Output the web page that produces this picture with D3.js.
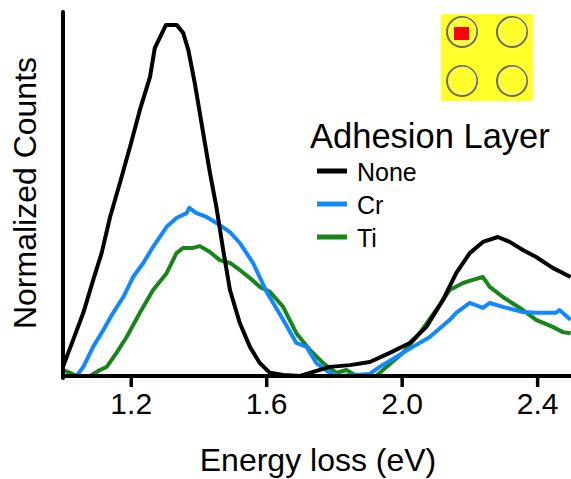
<!DOCTYPE html>
<html>
<head>
<meta charset="utf-8">
<script src="https://cdn.jsdelivr.net/npm/d3@7"></script>
<style>
  body { margin: 0; background: #fff; }
  text { font-family: "Liberation Sans", Arial, sans-serif; fill: #000; }
</style>
</head>
<body>
<svg id="chart" width="571" height="479"></svg>
<script>
// Spectra: [energy loss (eV), normalized counts]
var noneData = [
  [1.000, 0.026], [1.030, 0.103], [1.060, 0.180], [1.089, 0.273], [1.114, 0.350],
  [1.139, 0.453], [1.168, 0.550], [1.198, 0.653], [1.227, 0.758], [1.257, 0.852],
  [1.271, 0.934], [1.304, 1.000], [1.336, 1.000], [1.355, 0.977], [1.370, 0.929],
  [1.389, 0.835], [1.414, 0.692], [1.434, 0.578], [1.453, 0.481], [1.473, 0.359],
  [1.493, 0.245], [1.522, 0.151], [1.552, 0.083], [1.581, 0.037], [1.611, 0.009],
  [1.650, 0.003], [1.700, 0.000], [1.729, 0.009], [1.788, 0.026], [1.847, 0.031],
  [1.906, 0.040], [1.965, 0.066], [2.024, 0.094], [2.073, 0.140], [2.122, 0.217],
  [2.161, 0.293], [2.201, 0.350], [2.240, 0.382], [2.284, 0.396], [2.319, 0.382],
  [2.358, 0.359], [2.397, 0.339], [2.446, 0.308], [2.499, 0.282]
];
var crData = [
  [1.006, 0.000], [1.040, 0.000], [1.060, 0.026], [1.089, 0.083], [1.119, 0.131],
  [1.148, 0.180], [1.178, 0.225], [1.207, 0.282], [1.237, 0.322], [1.266, 0.368],
  [1.306, 0.425], [1.335, 0.450], [1.365, 0.464], [1.373, 0.479], [1.394, 0.464],
  [1.424, 0.453], [1.453, 0.436], [1.493, 0.410], [1.522, 0.379], [1.561, 0.322],
  [1.601, 0.240], [1.650, 0.160], [1.689, 0.094], [1.719, 0.083], [1.748, 0.037],
  [1.788, 0.009], [1.817, 0.000], [1.906, 0.006], [1.935, 0.026], [1.984, 0.054],
  [2.033, 0.083], [2.083, 0.111], [2.142, 0.160], [2.161, 0.180], [2.201, 0.208],
  [2.240, 0.194], [2.260, 0.208], [2.299, 0.197], [2.358, 0.182], [2.397, 0.180],
  [2.456, 0.180], [2.466, 0.188], [2.499, 0.160]
];
var tiData = [
  [1.000, 0.017], [1.021, 0.009], [1.040, 0.000], [1.080, 0.000], [1.109, 0.017],
  [1.129, 0.026], [1.158, 0.066], [1.188, 0.111], [1.227, 0.180], [1.266, 0.245],
  [1.306, 0.293], [1.335, 0.350], [1.355, 0.365], [1.384, 0.365], [1.404, 0.370],
  [1.434, 0.353], [1.463, 0.330], [1.493, 0.322], [1.522, 0.302], [1.552, 0.279],
  [1.581, 0.254], [1.611, 0.240], [1.650, 0.197], [1.689, 0.122], [1.729, 0.074],
  [1.768, 0.037], [1.807, 0.009], [1.837, 0.017], [1.866, 0.000], [1.925, 0.000],
  [1.955, 0.026], [2.004, 0.066], [2.053, 0.122], [2.102, 0.188], [2.142, 0.245],
  [2.181, 0.265], [2.210, 0.274], [2.240, 0.282], [2.260, 0.254], [2.299, 0.225],
  [2.358, 0.188], [2.397, 0.160], [2.446, 0.140], [2.476, 0.125], [2.499, 0.122]
];
var seriesNames = ["None", "Cr", "Ti"];
var seriesColors = ["#000000", "#1188ff", "#178517"];
var xTicks = [1.2, 1.6, 2.0, 2.4];

var svg = d3.select("#chart");

var x = d3.scaleLinear().domain([1.0, 2.5]).range([63, 571]);
var y = d3.scaleLinear().domain([0, 1.037]).range([376, 12]);

svg.append("defs").append("clipPath").attr("id", "plotClip")
  .append("rect").attr("x", 63).attr("y", 0).attr("width", 508).attr("height", 378);

var line = d3.line()
  .x(function(d) { return x(d[0]); })
  .y(function(d) { return y(d[1]); });

// draw Ti first, then Cr, then None so the overlap looks like the picture
var allData = [noneData, crData, tiData];
var plot = svg.append("g").attr("clip-path", "url(#plotClip)");
[2, 1, 0].forEach(function(i) {
  plot.append("path")
    .datum(allData[i])
    .attr("d", line)
    .attr("fill", "none")
    .attr("stroke", seriesColors[i])
    .attr("stroke-width", 4)
    .attr("stroke-linejoin", "round");
});

// x axis
var xAxis = d3.axisBottom(x).tickValues(xTicks).tickFormat(d3.format(".1f"))
  .tickSize(11).tickPadding(6);
var gx = svg.append("g").attr("transform", "translate(0,376)").call(xAxis);
gx.select(".domain").attr("stroke", "#000").attr("stroke-width", 4)
  .attr("d", "M63,0H571");
gx.selectAll(".tick line").attr("stroke", "#000").attr("stroke-width", 3.5);
gx.selectAll(".tick text").style("font-size", "30px").attr("fill", "#000")
  .attr("font-family", "Liberation Sans, Arial, sans-serif");

// y axis: only the line
svg.append("line")
  .attr("x1", 63).attr("x2", 63).attr("y1", 12).attr("y2", 378)
  .attr("stroke", "#000").attr("stroke-width", 4).attr("stroke-linecap", "round");

// axis titles
svg.append("text")
  .attr("x", 318).attr("y", 471)
  .attr("text-anchor", "middle")
  .style("font-size", "32px")
  .text("Energy loss (eV)");

svg.append("text")
  .attr("transform", "translate(36,193) rotate(-90)")
  .attr("text-anchor", "middle")
  .style("font-size", "32px")
  .text("Normalized Counts");

// legend
var legend = svg.append("g");
legend.append("text")
  .attr("x", 310).attr("y", 148)
  .style("font-size", "34.5px")
  .text("Adhesion Layer");
seriesNames.forEach(function(name, i) {
  var ly = 171 + i * 33;
  legend.append("line")
    .attr("x1", 317).attr("x2", 347).attr("y1", ly).attr("y2", ly)
    .attr("stroke", seriesColors[i]).attr("stroke-width", 5);
  legend.append("text")
    .attr("x", 357).attr("y", ly + 10)
    .style("font-size", "25px")
    .text(name);
});

// inset: sample with four pads, the measured one marked in red
var inset = svg.append("g");
inset.append("rect")
  .attr("x", 441).attr("y", 14).attr("width", 92).attr("height", 87)
  .attr("fill", "#ffff2a");
var pads = [[462, 32], [512, 32], [462, 81], [512, 81]];
pads.forEach(function(p) {
  inset.append("circle")
    .attr("cx", p[0]).attr("cy", p[1]).attr("r", 15)
    .attr("fill", "none").attr("stroke", "#6e6e50").attr("stroke-width", 2);
  inset.append("circle")
    .attr("cx", p[0] + 0.8).attr("cy", p[1] - 0.8).attr("r", 13.2)
    .attr("fill", "none").attr("stroke", "#f2f2c0").attr("stroke-width", 1);
});
inset.append("rect")
  .attr("x", 454).attr("y", 27).attr("width", 15).attr("height", 13)
  .attr("fill", "#ff0000");
</script>
</body>
</html>
